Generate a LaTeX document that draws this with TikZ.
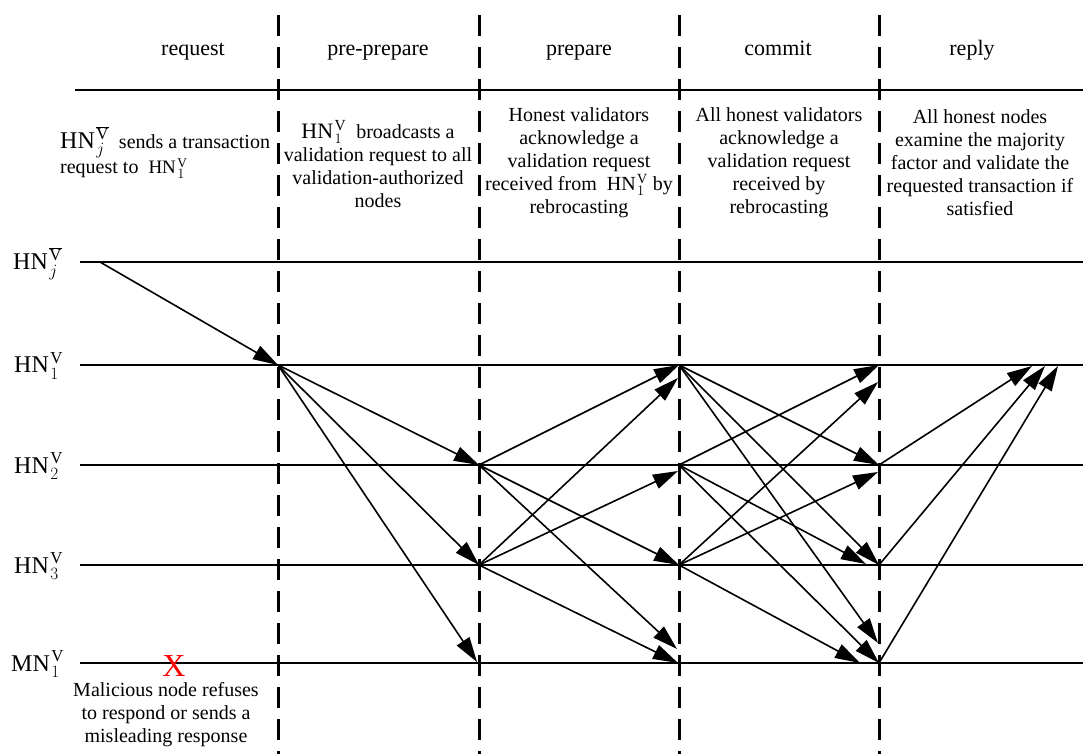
\documentclass[tikz,border=0pt]{standalone}
\usepackage{fontspec}
\setmainfont{Liberation Serif}
\usetikzlibrary{arrows.meta}
\newcommand{\hnv}[1]{HN\kern1.5pt$_{#1}^{\mathrm{V}}$}
\newcommand{\hnbar}[1]{HN\kern1.5pt$_{#1}^{\overline{\mathrm{V}}}$}
\begin{document}
\begin{tikzpicture}[x=1pt,y=-1pt,
  msg/.style={line width=1.6pt,-{Triangle[length=25pt,width=15pt]}},
  phase/.style={font=\fontsize{22}{26}\selectfont, inner sep=0, anchor=base},
  desc/.style={font=\fontsize{20}{23}\selectfont, align=center, inner sep=0},
  timeline/.style={line width=2pt},
  sepline/.style={line width=3pt, dash pattern=on 21pt off 11pt},
  lbl/.style={font=\fontsize{24}{28}\selectfont, anchor=base west, inner sep=0}]
\useasboundingbox (0,0) rectangle (1088,754);
\fill[white] (0,0) rectangle (1088,754);

% top rule
\coordinate (tl) at (75,90); \coordinate (tr) at (1083,90);
\draw[timeline] (tl) -- (tr);

% timelines
\foreach \n/\y in {J/262,1/365,2/465,3/565,M/663}{
  \coordinate (s\n) at (80,\y); \coordinate (t\n) at (1083,\y);
  \draw[timeline] (s\n) -- (t\n);
}

% phase separators
\foreach \n/\x in {1/278,2/479,3/679,4/879}{
  \coordinate (top\n) at (\x,15); \coordinate (bot\n) at (\x,754);
  \draw[sepline] (top\n) -- (bot\n);
}

% phase labels
\node[phase] (p1) at (193,56) {request};
\node[phase] (p2) at (378,56) {pre-prepare};
\node[phase] (p3) at (579,56) {prepare};
\node[phase] (p4) at (778,56) {commit};
\node[phase] (p5) at (972,56) {reply};

% descriptions
\node[desc, align=left, anchor=base west] (d1) at (60,174) {{\fontsize{24}{24}\selectfont\hnbar{j}}\ \ sends a transaction\\request to \ {\fontsize{19}{19}\selectfont\hnv{1}}};
\node[desc] (d2) at (378,164) {{\fontsize{22}{22}\selectfont\hnv{1}}\ \ broadcasts a\\validation request to all\\validation-authorized\\nodes};
\node[desc] (d3) at (579,163) {Honest validators\\acknowledge a\\validation request\\received from \ \hnv{1} by\\rebrocasting};
\node[desc] (d4) at (779,163) {All honest validators\\acknowledge a\\validation request\\received by\\rebrocasting};
\node[desc] (d5) at (980,163) {All honest nodes\\examine the majority\\factor and validate the\\requested transaction if\\satisfied};

% left labels
\node[lbl] (lJ) at (13,270) {\hnbar{j}};
\node[lbl] (l1) at (14,373) {\hnv{1}};
\node[lbl] (l2) at (14,473) {\hnv{2}};
\node[lbl] (l3) at (14,573) {\hnv{3}};
\node[lbl] (lM) at (11,671) {MN\kern1.5pt$_{1}^{\mathrm{V}}$};

% malicious
\node[font=\fontsize{32}{32}\selectfont, text=red, inner sep=0] (x) at (174,666) {X};
\node[desc] (mal) at (166,715) {Malicious node refuses\\to respond or sends a\\misleading response};

% message points
\coordinate (jS) at (100,262);
\coordinate (a1) at (278,365);
\coordinate (b2) at (479,465); \coordinate (b3) at (479,565); \coordinate (bM) at (477,662);
\coordinate (c1) at (679,365); \coordinate (c1b) at (678,378);
\coordinate (c2) at (679,465); \coordinate (c2b) at (678,471);
\coordinate (c3) at (679,565);
\coordinate (cMa) at (677,649); \coordinate (cM) at (678,663);
\coordinate (e1) at (879,365); \coordinate (e1b) at (878,382);
\coordinate (e2) at (879,465); \coordinate (e2b) at (878,472);
\coordinate (e3) at (879,565); \coordinate (e3a) at (866,564);
\coordinate (eMa) at (878,643); \coordinate (eM) at (879,663); \coordinate (eMb) at (860,663);
\coordinate (r1) at (1032,366); \coordinate (r2) at (1045,366); \coordinate (r3) at (1058,366);

% request
\draw[msg] (jS) -- (a1);
% pre-prepare
\draw[msg] (a1) -- (b2);
\draw[msg] (a1) -- (b3);
\draw[msg] (a1) -- (bM);
% prepare
\draw[msg] (b2) -- (c1);
\draw[msg] (b2) -- (c3);
\draw[msg] (b2) -- (cMa);
\draw[msg] (b3) -- (c1b);
\draw[msg] (b3) -- (c2b);
\draw[msg] (b3) -- (cM);
% commit
\draw[msg] (c1) -- (e2);
\draw[msg] (c1) -- (e3);
\draw[msg] (c1) -- (eMa);
\draw[msg] (c2) -- (e1);
\draw[msg] (c2) -- (e3a);
\draw[msg] (c2) -- (eM);
\draw[msg] (c3) -- (e1b);
\draw[msg] (c3) -- (e2b);
\draw[msg] (c3) -- (eMb);
% reply
\draw[msg] (e2) -- (r1);
\draw[msg] (e3) -- (r2);
\draw[msg] (eM) -- (r3);
\end{tikzpicture}
\end{document}
